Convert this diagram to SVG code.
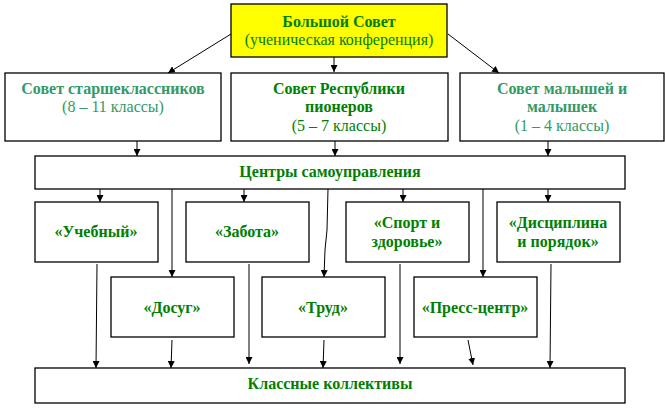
<svg xmlns="http://www.w3.org/2000/svg" width="665" height="414" viewBox="0 0 665 414">
<defs>
<marker id="ah" viewBox="0 0 10 10" refX="10" refY="5" markerWidth="7" markerHeight="7" markerUnits="userSpaceOnUse" orient="auto">
<path d="M0,0 L10,5 L0,10 z" fill="#000"/>
</marker>
</defs>
<style>
.box{fill:#fff;stroke:#000;stroke-width:1.3}
.top{fill:#ffff00;stroke:#000;stroke-width:1.3}
text{font-family:"Liberation Serif","Times New Roman",serif;font-size:16px;text-anchor:middle}
.b{font-weight:bold;font-size:16px}
.g{fill:#008000}
.s{fill:#339966}
.c line,.c polyline{stroke:#000;stroke-width:1;fill:none;marker-end:url(#ah)}
</style>
<rect width="665" height="414" fill="#fff"/>
<g id="connectors" class="c">
<line x1="231" y1="34" x2="168" y2="73"/>
<line x1="334" y1="53" x2="334" y2="72"/>
<line x1="448" y1="34" x2="499" y2="73"/>
<line x1="137" y1="141" x2="137" y2="156"/>
<line x1="335" y1="141" x2="335" y2="156"/>
<line x1="548" y1="141" x2="548" y2="156"/>
<line x1="100" y1="189" x2="100" y2="202"/>
<line x1="244" y1="189" x2="244" y2="202"/>
<line x1="403" y1="189" x2="403" y2="202"/>
<line x1="548" y1="189" x2="548" y2="202"/>
<line x1="172" y1="189" x2="172" y2="277"/>
<polyline points="328,189 327,230 325,250 324,277"/>
<line x1="483" y1="189" x2="483" y2="277"/>
<line x1="97" y1="264" x2="96" y2="368"/>
<line x1="249" y1="264" x2="249" y2="364"/>
<line x1="400" y1="264" x2="400" y2="364"/>
<line x1="551" y1="264" x2="550" y2="368"/>
<line x1="172" y1="340" x2="171" y2="368"/>
<line x1="324" y1="340" x2="323" y2="368"/>
<line x1="468" y1="340" x2="473" y2="365"/>
</g>
<g id="n-bolshoi">
<rect class="top" x="231" y="4" width="216" height="53"/>
<text class="b g" x="339" y="27">Большой Совет</text>
<text class="g" x="339" y="45">(ученическая конференция)</text>
</g>
<g id="n-starsh">
<rect class="box" x="5" y="73" width="216" height="68"/>
<text class="b s" x="113" y="94">Совет старшеклассников</text>
<text class="s" x="113" y="112">(8 – 11 классы)</text>
</g>
<g id="n-respub">
<rect class="box" x="231" y="73" width="217" height="68"/>
<text class="b g" x="339" y="94">Совет Республики</text>
<text class="b g" x="339" y="112">пионеров</text>
<text class="g" x="339" y="131">(5 – 7 классы)</text>
</g>
<g id="n-malysh">
<rect class="box" x="460" y="73" width="204" height="68"/>
<text class="b s" x="562" y="94">Совет малышей и</text>
<text class="b s" x="562" y="112">малышек</text>
<text class="s" x="562" y="131">(1 – 4 классы)</text>
</g>
<g id="n-centry">
<rect class="box" x="35" y="156" width="590" height="33"/>
<text class="b g" x="330" y="177">Центры самоуправления</text>
</g>
<g id="n-uchebny">
<rect class="box" x="35" y="202" width="123" height="60"/>
<text class="b g" x="96" y="237">«Учебный»</text>
</g>
<g id="n-zabota">
<rect class="box" x="186" y="202" width="123" height="60"/>
<text class="b g" x="247" y="237">«Забота»</text>
</g>
<g id="n-sport">
<rect class="box" x="346" y="202" width="123" height="60"/>
<text class="b g" x="407" y="228">«Спорт и</text>
<text class="b g" x="407" y="247">здоровье»</text>
</g>
<g id="n-discipl">
<rect class="box" x="497" y="202" width="123" height="60"/>
<text class="b g" x="558" y="228">«Дисциплина</text>
<text class="b g" x="558" y="247">и порядок»</text>
</g>
<g id="n-dosug">
<rect class="box" x="111" y="277" width="123" height="60"/>
<text class="b g" x="172" y="313">«Досуг»</text>
</g>
<g id="n-trud">
<rect class="box" x="262" y="277" width="123" height="60"/>
<text class="b g" x="323" y="313">«Труд»</text>
</g>
<g id="n-press">
<rect class="box" x="414" y="277" width="123" height="60"/>
<text class="b g" x="475" y="313">«Пресс-центр»</text>
</g>
<g id="n-klassnye">
<rect class="box" x="35" y="368" width="590" height="35"/>
<text class="b g" x="330" y="389">Классные коллективы</text>
</g>
</svg>
